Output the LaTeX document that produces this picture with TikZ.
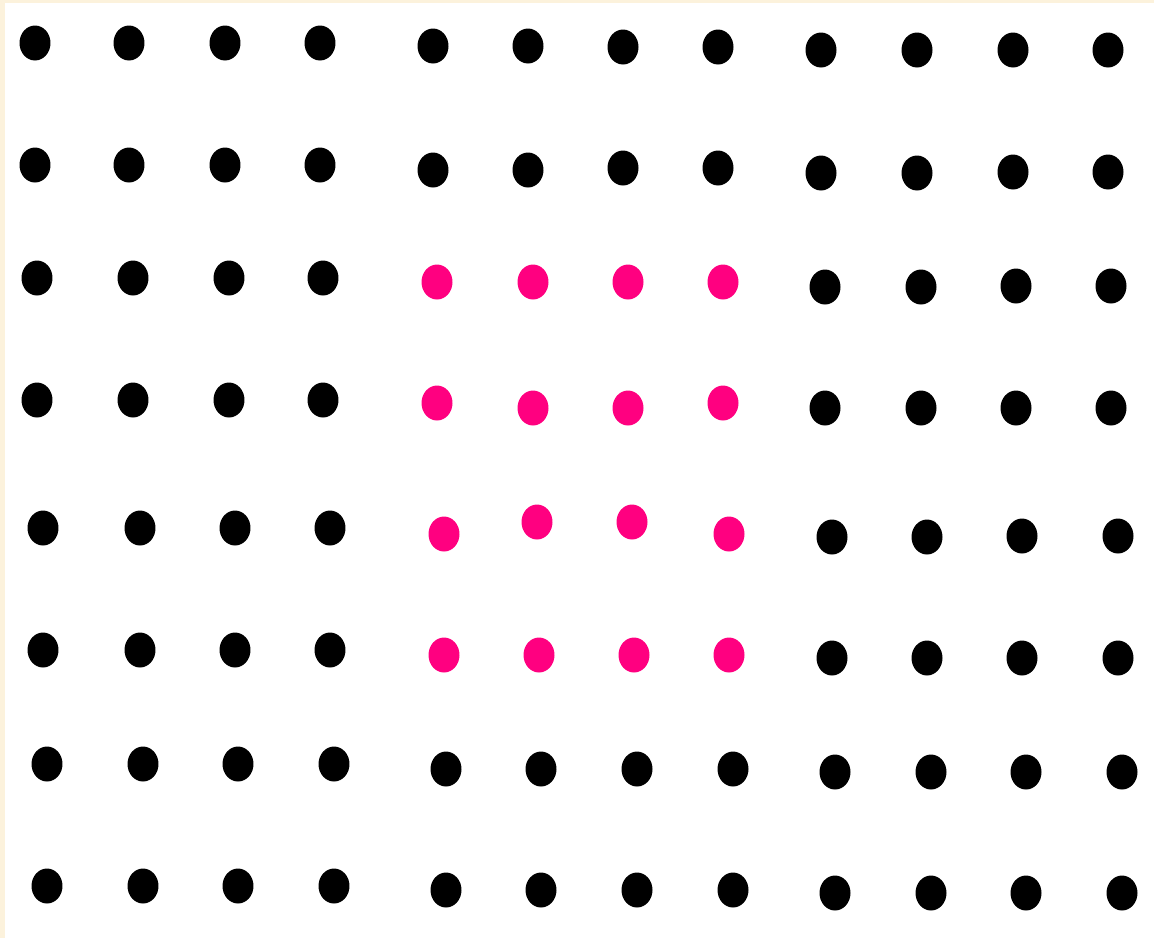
\documentclass[tikz,border=0pt]{standalone}
\usepackage{xcolor}
\usepackage{tikz}
\usetikzlibrary{shapes.geometric}
\definecolor{paper}{HTML}{FCF2DC}
\definecolor{dotpink}{HTML}{FF0080}

\begin{document}
\begin{tikzpicture}[x=0.02cm, y=-0.02cm,
  dot/.style={ellipse, fill=black, minimum width=6.2mm, minimum height=7mm, inner sep=0pt},
  hot/.style={dot, fill=dotpink}]
  \fill[paper] (0,0) rectangle (1154,938);
  \fill[white] (5,3) rectangle (1154,938);
  % rows 1-2
  \foreach \r/\c/\x/\y/\s in {1/1/35/43/dot,1/2/129/43/dot,1/3/225/43/dot,1/4/320/43/dot,
      1/5/433/46/dot,1/6/528/46/dot,1/7/623/47/dot,1/8/718/47/dot,
      1/9/821/50/dot,1/10/917/50/dot,1/11/1013/50/dot,1/12/1108/50/dot,
      2/1/35/165/dot,2/2/129/165/dot,2/3/225/165/dot,2/4/320/165/dot,
      2/5/433/170/dot,2/6/528/170/dot,2/7/623/168/dot,2/8/718/168/dot,
      2/9/821/173/dot,2/10/917/173/dot,2/11/1013/172/dot,2/12/1108/172/dot}{
    \node[\s] (d-\r-\c) at (\x,\y) {};
  }
  % rows 3-6, pink block in the middle
  \foreach \r/\c/\x/\y/\s in {3/1/37/278/dot,3/2/133/278/dot,3/3/229/278/dot,3/4/323/278/dot,
      3/5/437/282/hot,3/6/533/282/hot,3/7/628/282/hot,3/8/723/282/hot,
      3/9/825/287/dot,3/10/921/287/dot,3/11/1016/286/dot,3/12/1111/286/dot,
      4/1/37/400/dot,4/2/133/400/dot,4/3/229/400/dot,4/4/323/400/dot,
      4/5/437/403/hot,4/6/533/408/hot,4/7/628/408/hot,4/8/723/403/hot,
      4/9/825/408/dot,4/10/921/408/dot,4/11/1016/408/dot,4/12/1111/408/dot,
      5/1/43/528/dot,5/2/140/528/dot,5/3/235/528/dot,5/4/330/528/dot,
      5/5/444/534/hot,5/6/537/522/hot,5/7/632/522/hot,5/8/729/534/hot,
      5/9/832/537/dot,5/10/927/537/dot,5/11/1022/536/dot,5/12/1118/536/dot,
      6/1/43/650/dot,6/2/140/650/dot,6/3/235/650/dot,6/4/330/650/dot,
      6/5/444/655/hot,6/6/539/655/hot,6/7/634/655/hot,6/8/729/655/hot,
      6/9/832/658/dot,6/10/927/658/dot,6/11/1022/658/dot,6/12/1118/658/dot}{
    \node[\s] (d-\r-\c) at (\x,\y) {};
  }
  % rows 7-8
  \foreach \r/\c/\x/\y/\s in {7/1/47/764/dot,7/2/143/764/dot,7/3/238/764/dot,7/4/334/764/dot,
      7/5/446/769/dot,7/6/541/769/dot,7/7/637/769/dot,7/8/733/769/dot,
      7/9/835/772/dot,7/10/931/772/dot,7/11/1026/772/dot,7/12/1122/772/dot,
      8/1/47/886/dot,8/2/143/886/dot,8/3/238/886/dot,8/4/334/886/dot,
      8/5/446/890/dot,8/6/541/890/dot,8/7/637/890/dot,8/8/733/890/dot,
      8/9/835/893/dot,8/10/931/893/dot,8/11/1026/893/dot,8/12/1122/893/dot}{
    \node[\s] (d-\r-\c) at (\x,\y) {};
  }
\end{tikzpicture}
\end{document}
